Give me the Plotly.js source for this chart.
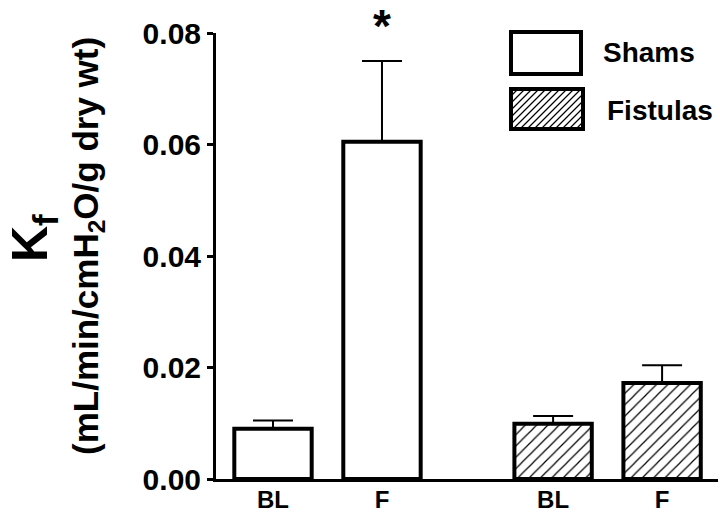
<!DOCTYPE html>
<html>
<head>
<meta charset="utf-8">
<script src="https://cdn.plot.ly/plotly-3.0.1.min.js"></script>
<style>html,body{margin:0;padding:0;background:#fff;}#chart{width:720px;height:514px;}</style>
</head>
<body>
<div id="chart"></div>
<script>
// ---- data ----
const groups = ['Shams', 'Fistulas'];
const conditions = ['BL', 'F'];
const shamsMean = [0.0090, 0.0605];
const shamsSEM = [0.0015, 0.0145];
const fistulasMean = [0.0099, 0.0172];
const fistulasSEM = [0.0014, 0.0032];
const significance = ['', '*'];   // markers above Shams bars

// ---- layout geometry ----
const W = 720, H = 514;
const M = {l: 216, r: 2, t: 33, b: 35};
const shamsX = [1, 2];
const fistulasX = [3.57, 4.57];
const FONT = 'Liberation Sans, Arial, sans-serif';
const pw = W - M.l - M.r, ph = H - M.t - M.b;
const px2x = p => (p - M.l) / pw;
const py2y = p => (H - M.b - p) / ph;

const traces = [
  {
    type: 'bar', name: groups[0], x: shamsX, y: shamsMean, width: 0.71,
    marker: {color: 'white', line: {color: 'black', width: 4}},
    error_y: {type: 'data', array: shamsSEM, arrayminus: shamsSEM.map(() => 0), symmetric: false,
      color: 'black', thickness: 2, width: 20},
    showlegend: false, hoverinfo: 'none'
  },
  {
    type: 'bar', name: groups[1], x: fistulasX, y: fistulasMean, width: 0.71,
    marker: {color: 'white', line: {color: 'black', width: 4},
      pattern: {shape: '/', fgcolor: 'black', bgcolor: 'white', size: 8, solidity: 0.15}},
    error_y: {type: 'data', array: fistulasSEM, arrayminus: fistulasSEM.map(() => 0), symmetric: false,
      color: 'black', thickness: 2, width: 20},
    showlegend: false, hoverinfo: 'none'
  }
];

// ---- custom legend ----
const shapes = [];
const annotations = [];
function rectPx(x0, y0, x1, y1) {
  return {type: 'rect', xref: 'paper', yref: 'paper',
    x0: px2x(x0), x1: px2x(x1), y0: py2y(y1), y1: py2y(y0),
    line: {color: 'black', width: 4}, fillcolor: 'white', layer: 'above'};
}
const lg = [{y0: 32, y1: 74, x0: 511, x1: 581}, {y0: 89, y1: 129, x0: 511, x1: 583}];
shapes.push(rectPx(lg[0].x0, lg[0].y0, lg[0].x1, lg[0].y1));
shapes.push(rectPx(lg[1].x0, lg[1].y0, lg[1].x1, lg[1].y1));
// hatch for Fistulas legend box
(function () {
  const b = lg[1];
  const h = b.y1 - b.y0;
  let d = '';
  for (let s = b.x0 - h; s < b.x1; s += 7) {
    let xa = s, ya = b.y1, xb = s + h, yb = b.y0;
    if (xa < b.x0) { ya = b.y1 - (b.x0 - xa); xa = b.x0; }
    if (xb > b.x1) { yb = b.y0 + (xb - b.x1); xb = b.x1; }
    if (xa >= xb) continue;
    d += 'M' + px2x(xa) + ',' + py2y(ya) + 'L' + px2x(xb) + ',' + py2y(yb);
  }
  shapes.push({type: 'path', xref: 'paper', yref: 'paper', path: d,
    line: {color: 'black', width: 1.2}, layer: 'above'});
})();
annotations.push({xref: 'paper', yref: 'paper', x: px2x(601), y: py2y(52), xanchor: 'left', yanchor: 'middle',
  text: groups[0], showarrow: false, font: {family: FONT, size: 28, weight: 'bold', color: 'black'}});
annotations.push({xref: 'paper', yref: 'paper', x: px2x(605), y: py2y(110), xanchor: 'left', yanchor: 'middle',
  text: groups[1], showarrow: false, font: {family: FONT, size: 28, weight: 'bold', color: 'black'}});

// significance star
significance.forEach((s, i) => {
  if (!s) return;
  annotations.push({x: shamsX[i], y: py2y(26), xref: 'x', yref: 'paper', yanchor: 'middle', xanchor: 'center',
    text: s, showarrow: false, font: {family: FONT, size: 46, weight: 'bold', color: 'black'}});
});

// y-axis title (two lines, different sizes)
annotations.push({xref: 'paper', yref: 'paper', x: px2x(33), y: py2y(238), xanchor: 'center', yanchor: 'middle',
  textangle: -90, text: 'K<sub>f</sub>', showarrow: false,
  font: {family: FONT, size: 50, weight: 'bold', color: 'black'}});
annotations.push({xref: 'paper', yref: 'paper', x: px2x(88), y: py2y(246), xanchor: 'center', yanchor: 'middle',
  textangle: -90, text: '(mL/min/cmH<sub>2</sub>O/g dry wt)', showarrow: false,
  font: {family: FONT, size: 35, weight: 'bold', color: 'black'}});

const layout = {
  width: W, height: H,
  margin: M,
  paper_bgcolor: 'white', plot_bgcolor: 'white',
  showlegend: false,
  barmode: 'overlay',
  xaxis: {
    range: [0.477, 5.083], showgrid: false, zeroline: false,
    showline: true, linecolor: 'black', linewidth: 3, ticks: '',
    tickvals: shamsX.concat(fistulasX), ticktext: conditions.concat(conditions),
    ticklabelstandoff: -3,
    tickfont: {family: FONT, size: 24, weight: 'bold', color: 'black'}
  },
  yaxis: {
    range: [0, 0.08], showgrid: false, zeroline: false,
    showline: true, linecolor: 'black', linewidth: 3,
    ticks: 'outside', ticklen: 6, tickwidth: 3, tickcolor: 'black',
    tickvals: [0, 0.02, 0.04, 0.06, 0.08], tickformat: '.2f',
    tickfont: {family: FONT, size: 30, weight: 'bold', color: 'black'}
  },
  shapes: shapes,
  annotations: annotations
};

Plotly.newPlot('chart', traces, layout, {displayModeBar: false, staticPlot: true});
</script>
</body>
</html>
